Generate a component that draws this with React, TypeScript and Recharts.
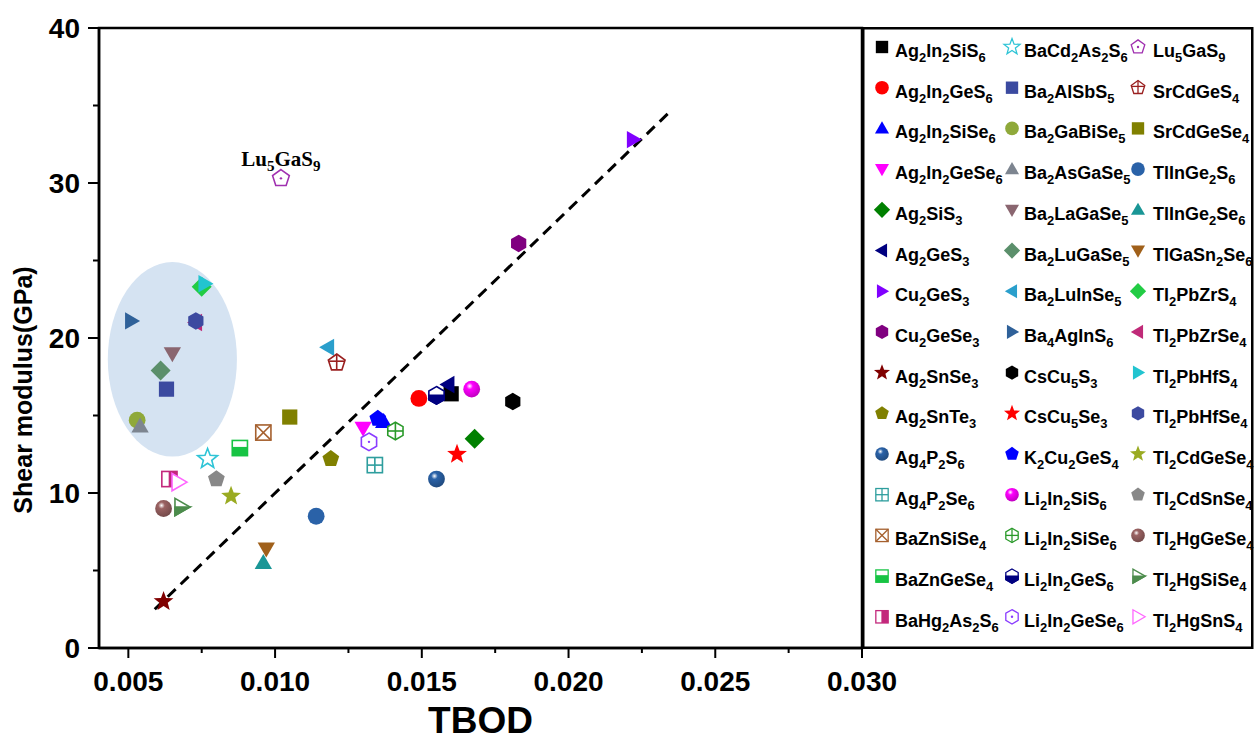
import React from 'react';
import { ScatterChart, Scatter, XAxis, YAxis, ReferenceLine, ReferenceArea, Legend } from 'recharts';

// ---------------- data ----------------
const compounds = [
  'Ag2In2SiS6', 'Ag2In2GeS6', 'Ag2In2SiSe6', 'Ag2In2GeSe6', 'Ag2SiS3', 'Ag2GeS3', 'Cu2GeS3', 'Cu2GeSe3',
  'Ag2SnSe3', 'Ag2SnTe3', 'Ag4P2S6', 'Ag4P2Se6', 'BaZnSiSe4', 'BaZnGeSe4', 'BaHg2As2S6',
  'BaCd2As2S6', 'Ba2AlSbS5', 'Ba2GaBiSe5', 'Ba2AsGaSe5', 'Ba2LaGaSe5', 'Ba2LuGaSe5', 'Ba2LuInSe5', 'Ba4AgInS6',
  'CsCu5S3', 'CsCu5Se3', 'K2Cu2GeS4', 'Li2In2SiS6', 'Li2In2SiSe6', 'Li2In2GeS6', 'Li2In2GeSe6',
  'Lu5GaS9', 'SrCdGeS4', 'SrCdGeSe4', 'TlInGe2S6', 'TlInGe2Se6', 'TlGaSn2Se6', 'Tl2PbZrS4', 'Tl2PbZrSe4',
  'Tl2PbHfS4', 'Tl2PbHfSe4', 'Tl2CdGeSe4', 'Tl2CdSnSe4', 'Tl2HgGeSe4', 'Tl2HgSiSe4', 'Tl2HgSnS4',
];

const tbod = [
  0.0160, 0.0149, 0.0137, 0.0130, 0.0168, 0.0159, 0.0222, 0.0183,
  0.0062, 0.0119, 0.0155, 0.0134, 0.0096, 0.0088, 0.0064,
  0.0077, 0.0063, 0.0053, 0.0054, 0.0065, 0.0061, 0.0118, 0.0051,
  0.0181, 0.0162, 0.0135, 0.0167, 0.0141, 0.0155, 0.0132,
  0.0102, 0.0121, 0.0105, 0.0114, 0.0096, 0.0097, 0.0075, 0.0073,
  0.0076, 0.0073, 0.0085, 0.0080, 0.0062, 0.0068, 0.0067,
];

const shear = [
  16.4, 16.1, 14.6, 14.2, 13.5, 17.0, 32.8, 26.1,
  3.0, 12.2, 10.9, 11.8, 13.9, 12.9, 10.9,
  12.2, 16.7, 14.7, 14.3, 19.0, 17.9, 19.4, 21.1,
  15.9, 12.5, 14.8, 16.7, 14.0, 16.3, 13.3,
  30.3, 18.4, 14.9, 8.5, 5.5, 6.4, 23.3, 21.0,
  23.5, 21.1, 9.8, 10.9, 9.0, 9.1, 10.7,
];

const markerKinds = [
  'square', 'circle', 'up', 'down', 'diamond', 'left', 'right', 'hexagon',
  'star', 'pentagon', 'ball', 'gridSquare', 'xSquare', 'halfSquareH', 'halfSquareV',
  'openStar', 'square', 'circle', 'up', 'down', 'diamond', 'left', 'right',
  'hexagon', 'star', 'pentagon', 'ball', 'crossHex', 'halfHex', 'dotHex',
  'dotPentagon', 'crossPentagon', 'square', 'circle', 'up', 'down', 'diamond', 'left',
  'right', 'hexagon', 'star', 'pentagon', 'ball', 'halfRight', 'openRight',
];

const markerColors = [
  '#000000', '#ff0000', '#0000ff', '#ff00ff', '#008000', '#000080', '#8000ff', '#800080',
  '#800000', '#808000', '#2a62a8', '#2e9e9e', '#a5602e', '#17c444', '#c3287c',
  '#2ec4d6', '#3b4aa0', '#8fa93a', '#7d8590', '#8a6670', '#5b8f6b', '#2a9fcc', '#2f6199',
  '#000000', '#ff0000', '#0000ff', '#ff00ff', '#2a9a2a', '#000080', '#8a3cff',
  '#a030b0', '#9a2020', '#808000', '#2a62a8', '#1a9696', '#a0601a', '#22cc44', '#c02a78',
  '#22c4d0', '#3c4aa0', '#9aab22', '#888888', '#9a6262', '#4c8c4c', '#ff66ff',
];

const xTicks = [0.005, 0.0075, 0.01, 0.0125, 0.015, 0.0175, 0.02, 0.0225, 0.025, 0.0275, 0.03];
const yTicks = [0, 5, 10, 15, 20, 25, 30, 35, 40];
const xDomain = [0.004, 0.03];
const yDomain = [0, 40];
const fitStart = { x: 0.0059, y: 2.5 };
const fitEnd = { x: 0.0234, y: 34.5 };
const highlightX = [0.0043, 0.0087];
const highlightY = [12.35, 24.9];
const annotated = 'Lu5GaS9';

// ---------------- helpers ----------------
const FONT = 'Arial, "Liberation Sans", Helvetica, sans-serif';
const SERIF = '"Times New Roman", "Liberation Serif", serif';

function shade(hex: string, f: number) {
  const n = parseInt(hex.slice(1), 16);
  const r = Math.round(((n >> 16) & 255) * f);
  const g = Math.round(((n >> 8) & 255) * f);
  const b = Math.round((n & 255) * f);
  return `rgb(${r},${g},${b})`;
}

function polyPts(cx: number, cy: number, n: number, r: number, rot: number) {
  const pts: string[] = [];
  for (let k = 0; k < n; k++) {
    const a = rot + (k * 2 * Math.PI) / n;
    pts.push(`${cx + r * Math.sin(a)},${cy - r * Math.cos(a)}`);
  }
  return pts.join(' ');
}

function starPts(cx: number, cy: number, ro: number, ri: number) {
  const pts: string[] = [];
  for (let k = 0; k < 10; k++) {
    const a = (k * Math.PI) / 5;
    const r = k % 2 === 0 ? ro : ri;
    pts.push(`${cx + r * Math.sin(a)},${cy - r * Math.cos(a)}`);
  }
  return pts.join(' ');
}

function renderMarker(kind: string, color: string, cx: number, cy: number, s: number, gid: string) {
  const h = s / 2;
  const sw = s > 14 ? 1.6 : 1.3;
  const open = { fill: '#fff', stroke: color, strokeWidth: sw };
  const sq = h * 0.95;
  const hexR = h * 1.1;
  const triR = h * 1.25;
  switch (kind) {
    case 'square':
      return <rect x={cx - sq} y={cy - sq} width={2 * sq} height={2 * sq} fill={color} />;
    case 'circle':
      return <circle cx={cx} cy={cy} r={h * 1.05} fill={color} />;
    case 'ball':
      return (
        <g>
          <defs>
            <radialGradient id={gid} cx="38%" cy="32%" r="70%">
              <stop offset="0%" stopColor="#ffffff" />
              <stop offset="28%" stopColor={color} />
              <stop offset="100%" stopColor={shade(color, 0.75)} />
            </radialGradient>
          </defs>
          <circle cx={cx} cy={cy} r={h * 1.05} fill={`url(#${gid})`} />
        </g>
      );
    case 'up':
      return <polygon points={polyPts(cx, cy + h * 0.15, 3, triR, 0)} fill={color} />;
    case 'down':
      return <polygon points={polyPts(cx, cy - h * 0.15, 3, triR, Math.PI)} fill={color} />;
    case 'left':
      return <polygon points={polyPts(cx + h * 0.15, cy, 3, triR, -Math.PI / 2)} fill={color} />;
    case 'right':
      return <polygon points={polyPts(cx - h * 0.15, cy, 3, triR, Math.PI / 2)} fill={color} />;
    case 'diamond':
      return <polygon points={polyPts(cx, cy, 4, h * 1.25, 0)} fill={color} />;
    case 'pentagon':
      return <polygon points={polyPts(cx, cy, 5, h * 1.1, 0)} fill={color} />;
    case 'hexagon':
      return <polygon points={polyPts(cx, cy, 6, hexR, 0)} fill={color} />;
    case 'star':
      return <polygon points={starPts(cx, cy, h * 1.3, h * 0.55)} fill={color} />;
    case 'openStar':
      return <polygon points={starPts(cx, cy, h * 1.3, h * 0.55)} {...open} />;
    case 'gridSquare':
      return (
        <g>
          <rect x={cx - sq} y={cy - sq} width={2 * sq} height={2 * sq} {...open} />
          <line x1={cx - sq} y1={cy} x2={cx + sq} y2={cy} stroke={color} strokeWidth={sw} />
          <line x1={cx} y1={cy - sq} x2={cx} y2={cy + sq} stroke={color} strokeWidth={sw} />
        </g>
      );
    case 'xSquare':
      return (
        <g>
          <rect x={cx - sq} y={cy - sq} width={2 * sq} height={2 * sq} {...open} />
          <line x1={cx - sq} y1={cy - sq} x2={cx + sq} y2={cy + sq} stroke={color} strokeWidth={sw} />
          <line x1={cx - sq} y1={cy + sq} x2={cx + sq} y2={cy - sq} stroke={color} strokeWidth={sw} />
        </g>
      );
    case 'halfSquareH':
      return (
        <g>
          <rect x={cx - sq} y={cy - sq} width={2 * sq} height={2 * sq} {...open} />
          <rect x={cx - sq} y={cy - sq * 0.15} width={2 * sq} height={sq * 1.15} fill={color} />
        </g>
      );
    case 'halfSquareV':
      return (
        <g>
          <rect x={cx - sq} y={cy - sq} width={2 * sq} height={2 * sq} {...open} />
          <rect x={cx - sq * 0.1} y={cy - sq} width={sq * 1.1} height={2 * sq} fill={color} />
        </g>
      );
    case 'crossHex':
      return (
        <g>
          <polygon points={polyPts(cx, cy, 6, hexR, 0)} {...open} />
          <line x1={cx - hexR * 0.866} y1={cy} x2={cx + hexR * 0.866} y2={cy} stroke={color} strokeWidth={sw} />
          <line x1={cx} y1={cy - hexR} x2={cx} y2={cy + hexR} stroke={color} strokeWidth={sw} />
        </g>
      );
    case 'halfHex': {
      const rs = hexR * 0.866;
      return (
        <g>
          <polygon points={polyPts(cx, cy, 6, hexR, 0)} {...open} />
          <polygon
            points={`${cx - rs},${cy} ${cx + rs},${cy} ${cx + rs},${cy + hexR / 2} ${cx},${cy + hexR} ${cx - rs},${cy + hexR / 2}`}
            fill={color}
            stroke={color}
            strokeWidth={sw}
          />
        </g>
      );
    }
    case 'dotHex':
      return (
        <g>
          <polygon points={polyPts(cx, cy, 6, hexR, 0)} {...open} />
          <circle cx={cx} cy={cy} r={1.2} fill={color} />
        </g>
      );
    case 'dotPentagon':
      return (
        <g>
          <polygon points={polyPts(cx, cy, 5, h * 1.1, 0)} {...open} />
          <circle cx={cx} cy={cy} r={1.2} fill={color} />
        </g>
      );
    case 'crossPentagon':
      return (
        <g>
          <polygon points={polyPts(cx, cy, 5, h * 1.1, 0)} {...open} />
          <line x1={cx - h * 0.95} y1={cy - h * 0.2} x2={cx + h * 0.95} y2={cy - h * 0.2} stroke={color} strokeWidth={sw} />
          <line x1={cx} y1={cy - h * 1.1} x2={cx} y2={cy + h * 0.9} stroke={color} strokeWidth={sw} />
        </g>
      );
    case 'halfRight': {
      const c = cx - h * 0.15;
      return (
        <g>
          <polygon points={polyPts(c, cy, 3, triR, Math.PI / 2)} {...open} />
          <polygon
            points={`${c - triR / 2},${cy} ${c + triR},${cy} ${c - triR / 2},${cy + triR * 0.866}`}
            fill={color}
            stroke={color}
            strokeWidth={sw}
          />
        </g>
      );
    }
    case 'openRight':
      return <polygon points={polyPts(cx - h * 0.15, cy, 3, triR, Math.PI / 2)} {...open} />;
    default:
      return <circle cx={cx} cy={cy} r={h} fill={color} />;
  }
}

function formulaSpans(name: string, fs: number, drop: number) {
  const parts = name.match(/[A-Za-z]+|\d+/g) || [];
  let lowered = false;
  return parts.map((p, k) => {
    const isNum = /\d/.test(p);
    let dy = 0;
    if (isNum && !lowered) {
      dy = drop;
      lowered = true;
    } else if (!isNum && lowered) {
      dy = -drop;
      lowered = false;
    }
    return (
      <tspan key={k} dy={dy || undefined} fontSize={isNum ? fs * 0.72 : fs}>
        {p}
      </tspan>
    );
  });
}

// ---------------- axis pieces ----------------
const X_TICK_SIZE = 10;
const Y_TICK_SIZE = 11;
const Y_TICK_MARGIN = 8;

const isMajorX = (v: number) => Math.abs(v * 200 - Math.round(v * 200)) < 1e-6;
const isMajorY = (v: number) => Math.abs(v / 10 - Math.round(v / 10)) < 1e-6;

const XTick = (props: any) => {
  const { x, y, payload } = props;
  const axisY = y - X_TICK_SIZE;
  const major = isMajorX(payload.value);
  return (
    <g>
      <line x1={x} y1={axisY} x2={x} y2={axisY + (major ? 10 : 5)} stroke="#000" strokeWidth={2} />
      {major && (
        <text x={x} y={axisY + 43} textAnchor="middle" fontFamily={FONT} fontWeight="bold" fontSize={28} fill="#000">
          {payload.value.toFixed(3)}
        </text>
      )}
    </g>
  );
};

const YTick = (props: any) => {
  const { x, y, payload } = props;
  const axisX = x + Y_TICK_SIZE + Y_TICK_MARGIN;
  const major = isMajorY(payload.value);
  return (
    <g>
      <line x1={axisX} y1={y} x2={axisX - (major ? 11 : 6)} y2={y} stroke="#000" strokeWidth={2} />
      {major && (
        <text x={axisX - 19} y={y} dy="0.36em" textAnchor="end" fontFamily={FONT} fontWeight="bold" fontSize={28} fill="#000">
          {payload.value}
        </text>
      )}
    </g>
  );
};

const XTitle = (props: any) => {
  const vb = props.viewBox || { x: 99, y: 648, width: 763, height: 95 };
  return (
    <text x={vb.x + vb.width / 2} y={vb.y + 85} textAnchor="middle" fontFamily={FONT} fontWeight="bold" fontSize={37} fill="#000">
      TBOD
    </text>
  );
};

const YTitle = (props: any) => {
  const vb = props.viewBox || { x: 0, y: 28, width: 99, height: 620 };
  const cx = vb.x + 23;
  const cy = vb.y + 362;
  return (
    <text
      x={cx}
      y={cy}
      transform={`rotate(-90 ${cx} ${cy})`}
      textAnchor="middle"
      dominantBaseline="central"
      fontFamily={FONT}
      fontWeight="bold"
      fontSize={25}
      fill="#000"
    >
      Shear modulus(GPa)
    </text>
  );
};

// ---------------- legend ----------------
const LEG_W = 392;
const LEG_H = 622;
const colSym = [20, 150, 276];
const colText = [33, 162, 291];
const ROW_GAP = 40.7;

const renderLegend = (props: any) => {
  const items = props.payload || [];
  return (
    <svg width={LEG_W} height={LEG_H} style={{ display: 'block' }}>
      <rect x={1.25} y={1.25} width={LEG_W - 3} height={LEG_H - 2.5} fill="#fff" stroke="#000" strokeWidth={2.5} />
      {items.map((it: any) => {
        const i = compounds.indexOf(it.value);
        if (i < 0) return null;
        const col = Math.floor(i / 15);
        const row = i % 15;
        const sy = 20 + row * ROW_GAP;
        return (
          <g key={it.value}>
            {renderMarker(markerKinds[i], markerColors[i], colSym[col], sy, 13, `lg${i}`)}
            <text x={colText[col]} y={sy + 10} fontFamily={FONT} fontWeight="bold" fontSize={18} fill="#000">
              {formulaSpans(it.value, 18, 5)}
            </text>
          </g>
        );
      })}
    </svg>
  );
};

// ---------------- chart ----------------
const series = compounds.map((name, i) => ({
  name,
  kind: markerKinds[i],
  color: markerColors[i],
  data: [{ x: tbod[i], y: shear[i] }],
}));

const makeShape = (kind: string, color: string, idx: number, name: string) => (p: any) => {
  const { cx, cy } = p;
  if (cx == null || cy == null) return <g />;
  return (
    <g>
      {renderMarker(kind, color, cx, cy, 16, `pt${idx}`)}
      {name === annotated && (
        <text x={cx} y={cy - 12} textAnchor="middle" fontFamily={SERIF} fontWeight="bold" fontSize={21} fill="#000">
          {formulaSpans(name, 21, 5)}
        </text>
      )}
    </g>
  );
};

export default function App() {
  return (
    <div style={{ position: 'absolute', left: 0, top: 0, width: 1254, height: 743, background: '#fff' }}>
      <ScatterChart width={1254} height={743} margin={{ top: 28, right: 0, bottom: 0, left: 0 }}>
        <XAxis
          type="number"
          dataKey="x"
          domain={xDomain}
          ticks={xTicks}
          interval={0}
          allowDataOverflow
          height={95}
          tickSize={X_TICK_SIZE}
          tickMargin={0}
          tickLine={false}
          tick={XTick}
          axisLine={{ stroke: '#000', strokeWidth: 2.5 }}
          label={<XTitle />}
        />
        <YAxis
          type="number"
          dataKey="y"
          domain={yDomain}
          ticks={yTicks}
          interval={0}
          allowDataOverflow
          width={99}
          tickSize={Y_TICK_SIZE}
          tickMargin={Y_TICK_MARGIN}
          tickLine={false}
          tick={YTick}
          axisLine={{ stroke: '#000', strokeWidth: 2.5 }}
          label={<YTitle />}
        />
        <ReferenceArea
          x1={highlightX[0]}
          x2={highlightX[1]}
          y1={highlightY[0]}
          y2={highlightY[1]}
          shape={(p: any) => (
            <ellipse cx={p.x + p.width / 2} cy={p.y + p.height / 2} rx={Math.abs(p.width) / 2} ry={Math.abs(p.height) / 2} fill="#d5e3f2" />
          )}
        />
        <ReferenceArea
          x1={xDomain[0]}
          x2={xDomain[1]}
          y1={yDomain[0]}
          y2={yDomain[1]}
          fill="none"
          fillOpacity={0}
          stroke="#000"
          strokeWidth={2.5}
        />
        <ReferenceLine
          segment={[fitStart, fitEnd]}
          stroke="#000"
          strokeWidth={3}
          strokeDasharray="11 7"
          ifOverflow="visible"
        />
        {series.map((s, i) => (
          <Scatter
            key={s.name}
            name={s.name}
            data={s.data}
            fill={s.color}
            shape={makeShape(s.kind, s.color, i, s.name)}
            isAnimationActive={false}
          />
        ))}
        <Legend
          layout="vertical"
          align="right"
          verticalAlign="top"
          width={LEG_W}
          height={LEG_H}
          content={renderLegend}
          wrapperStyle={{ position: 'absolute', left: 862, top: 27, width: LEG_W, height: LEG_H }}
        />
      </ScatterChart>
    </div>
  );
}
